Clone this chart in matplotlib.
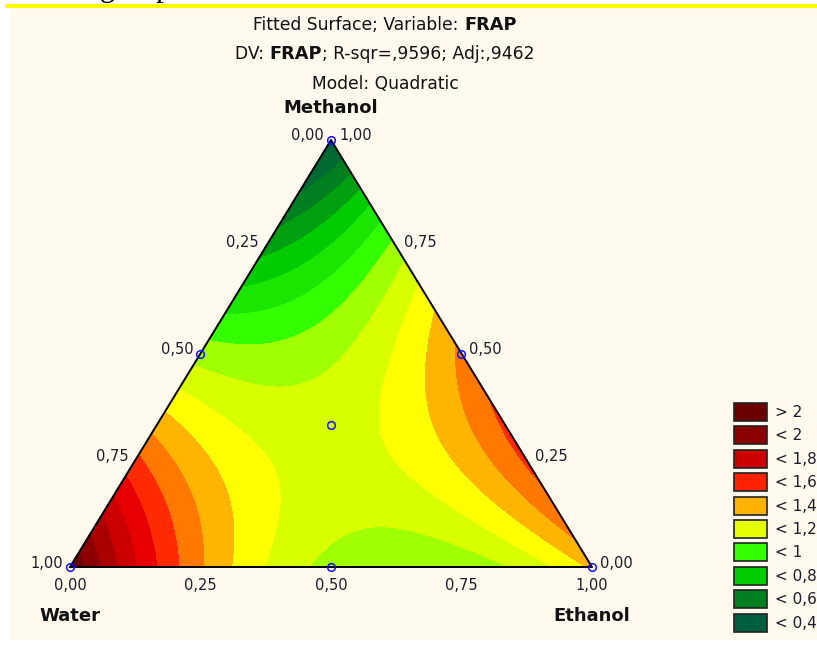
import numpy as np
import matplotlib
matplotlib.use("Agg")
import matplotlib.pyplot as plt
import matplotlib.tri as mtri
from matplotlib.patches import Rectangle

# ---------------- data (fitted quadratic mixture model) ----------------
components = ["Water", "Ethanol", "Methanol"]
# pure-component values (Water, Ethanol, Methanol)
vertex_values = [2.08, 1.32, 0.35]
# binary interaction coefficients: Water*Ethanol, Water*Methanol, Ethanol*Methanol
interaction_values = [-2.55, -0.65, 2.35]

# contour boundaries and fill colours (low -> high)
contour_bounds = [0.4, 0.5, 0.6, 0.7, 0.8, 0.9, 1.0, 1.1, 1.2, 1.3, 1.4, 1.5,
                  1.6, 1.7, 1.8, 1.9, 2.0]
contour_colors = ["#005F40", "#006A32", "#007F20", "#00A010", "#00CC00", "#1AE600",
                  "#33FF00", "#A0FF00", "#D8FF00", "#FFFF00", "#FFB400", "#FF7800",
                  "#FF2A00", "#E80000", "#CC0000", "#AA0000", "#8B0000", "#6B0000"]

legend_labels = ["> 2", "< 2", "< 1,8", "< 1,6", "< 1,4", "< 1,2", "< 1", "< 0,8", "< 0,6", "< 0,4"]
legend_colors = ["#6B0000", "#8B0000", "#CC0000", "#FF2200", "#FFB300", "#E6FF00",
                 "#33FF00", "#00CC00", "#008020", "#005F40"]

tick_values = [0.0, 0.25, 0.5, 0.75, 1.0]
tick_labels = ["0,00", "0,25", "0,50", "0,75", "1,00"]

# design points (Water, Ethanol, Methanol)
design_points = [(1, 0, 0), (0, 1, 0), (0, 0, 1), (0.5, 0.5, 0), (0.5, 0, 0.5),
                 (0, 0.5, 0.5), (1/3, 1/3, 1/3)]

# ---------------- figure ----------------
W_px, H_px = 817, 658
fig = plt.figure(figsize=(W_px/100, H_px/100), dpi=100, facecolor="white")
ax = fig.add_axes([0, 0, 1, 1])
ax.set_xlim(0, W_px)
ax.set_ylim(H_px, 0)
ax.axis("off")

ax.add_patch(Rectangle((10, 9), 807, 631, facecolor="#FFF9EE", edgecolor="none", zorder=0))
ax.plot([5, 817], [5.5, 5.5], color="#FFFF00", lw=3, zorder=1, solid_capstyle="butt")
# cropped caption text at the very top (only descenders visible, as in the source)
ax.text(100, -4, "g", family="Liberation Serif", fontsize=22, va="baseline", ha="left", color="black", clip_on=False)
ax.text(156, -4, "p", family="Liberation Serif", fontsize=22, va="baseline", ha="left", color="black", clip_on=False)

# triangle corners in pixels
PW = np.array([70.0, 567.0])
PE = np.array([592.0, 567.0])
PM = np.array([331.0, 140.0])

def to_px(w, e, m):
    return w*PW[0] + e*PE[0] + m*PM[0], w*PW[1] + e*PE[1] + m*PM[1]

def model(w, e, m):
    b1, b2, b3 = vertex_values
    b12, b13, b23 = interaction_values
    return b1*w + b2*e + b3*m + b12*w*e + b13*w*m + b23*e*m

N = 160
ee, mm = [], []
for i in range(N + 1):
    for j in range(N + 1 - i):
        ee.append(i / N)
        mm.append(j / N)
ee = np.array(ee); mm = np.array(mm)
ww = np.clip(1 - ee - mm, 0, 1)
xs, ys = to_px(ww, ee, mm)
zs = model(ww, ee, mm)
tri = mtri.Triangulation(xs, ys)
levels = [-10] + contour_bounds + [10]
ax.tricontourf(tri, zs, levels=levels, colors=contour_colors, zorder=2, antialiased=False)

# triangle outline
tx = [PW[0], PE[0], PM[0], PW[0]]
ty = [PW[1], PE[1], PM[1], PW[1]]
ax.plot(tx, ty, color="black", lw=1.4, zorder=3)

# design points
for (w, e, m) in design_points:
    px, py = to_px(w, e, m)
    ax.plot(px, py, marker="o", ms=5.5, mfc="none", mec="#1010FF", mew=1.1, zorder=4, clip_on=False)

tick_font = dict(family="DejaVu Sans", fontsize=10.5, color="#1c1c28")
# bottom axis: Ethanol fraction
for v, lab in zip(tick_values, tick_labels):
    px, py = to_px(1 - v, v, 0)
    ax.text(px, py + 19, lab, ha="center", va="center", **tick_font)
# left edge: Water fraction (1 at bottom)
for v, lab in zip(tick_values, tick_labels):
    px, py = to_px(v, 0, 1 - v)
    ax.text(px - 7, py - 4, lab, ha="right", va="center", **tick_font)
# right edge: Methanol fraction (0 at bottom)
for v, lab in zip(tick_values, tick_labels):
    px, py = to_px(0, 1 - v, v)
    ax.text(px + 8, py - 4, lab, ha="left", va="center", **tick_font)

lab_font = dict(family="DejaVu Sans", fontsize=13, fontweight="bold", color="#111111")
ax.text(331, 108, "Methanol", ha="center", va="center", **lab_font)
ax.text(70, 616, "Water", ha="center", va="center", **lab_font)
ax.text(592, 616, "Ethanol", ha="center", va="center", **lab_font)

# title lines with mixed bold pieces
renderer = fig.canvas.get_renderer()
title_lines = [
    (25, [("Fitted Surface; Variable: ", "normal"), ("FRAP", "bold")]),
    (54, [("DV: ", "normal"), ("FRAP", "bold"), ("; R-sqr=,9596; Adj:,9462", "normal")]),
    (84, [("Model: Quadratic", "normal")]),
]
for yc, pieces in title_lines:
    arts = []
    for txt, wt in pieces:
        fs = 12.3 if wt == "normal" else 12.8
        a = ax.text(0, yc, txt, ha="left", va="center", family="DejaVu Sans",
                    fontsize=fs, fontweight=wt, color="#111111")
        arts.append(a)
    widths = [a.get_window_extent(renderer).width for a in arts]
    x0 = 385 - sum(widths) / 2
    for a, wdt in zip(arts, widths):
        a.set_x(x0)
        x0 += wdt

# legend
y0 = 403
for k, (lab, col) in enumerate(zip(legend_labels, legend_colors)):
    yy = y0 + k * 23.4
    ax.add_patch(Rectangle((734, yy), 33, 18, facecolor=col, edgecolor="#222222", lw=1.2, zorder=5))
    ax.text(775, yy + 9.5, lab, ha="left", va="center", family="DejaVu Sans", fontsize=11,
            color="#1c1c28", zorder=5, clip_on=True)

fig.savefig("out.png", dpi=100, facecolor="white")
